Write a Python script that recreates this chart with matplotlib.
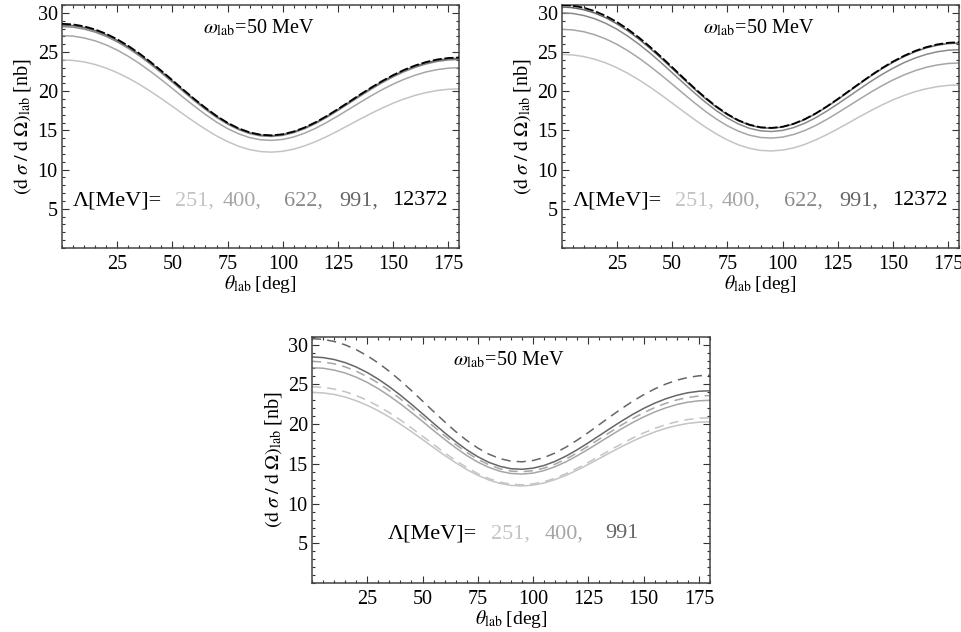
import matplotlib
matplotlib.use("Agg")
import matplotlib.pyplot as plt
from matplotlib.ticker import MultipleLocator

plt.rcParams["font.family"] = ["Liberation Serif", "DejaVu Serif"]
plt.rcParams["mathtext.fontset"] = "stix"

theta = [0, 5, 10, 15, 20, 25, 30, 35, 40, 45, 50, 55, 60, 65, 70, 75, 80, 85, 90,
         95, 100, 105, 110, 115, 120, 125, 130, 135, 140, 145, 150, 155, 160, 165,
         170, 175, 180]

# left panel: cross sections [nb] for each cutoff
left_251 = [24.00, 23.93, 23.74, 23.41, 22.95, 22.37, 21.68, 20.89, 20.00, 19.06,
            18.07, 17.06, 16.08, 15.15, 14.30, 13.57, 12.98, 12.55, 12.30, 12.23,
            12.34, 12.61, 13.04, 13.58, 14.23, 14.94, 15.69, 16.44, 17.17, 17.85,
            18.48, 19.02, 19.48, 19.83, 20.09, 20.25, 20.30]
left_400 = [27.10, 27.03, 26.80, 26.43, 25.91, 25.25, 24.46, 23.55, 22.55, 21.47,
            20.35, 19.20, 18.09, 17.03, 16.06, 15.23, 14.57, 14.08, 13.80, 13.73,
            13.85, 14.17, 14.66, 15.29, 16.04, 16.85, 17.71, 18.57, 19.41, 20.20,
            20.91, 21.53, 22.05, 22.47, 22.76, 22.94, 23.00]
left_622 = [28.25, 28.17, 27.93, 27.54, 27.00, 26.31, 25.48, 24.53, 23.47, 22.34,
            21.16, 19.96, 18.78, 17.67, 16.66, 15.80, 15.10, 14.59, 14.30, 14.23,
            14.37, 14.71, 15.23, 15.90, 16.68, 17.55, 18.46, 19.37, 20.25, 21.09,
            21.84, 22.50, 23.05, 23.49, 23.80, 23.99, 24.05]
left_991 = [28.45, 28.37, 28.13, 27.74, 27.19, 26.49, 25.66, 24.70, 23.64, 22.50,
            21.31, 20.10, 18.92, 17.80, 16.78, 15.91, 15.20, 14.70, 14.40, 14.33,
            14.47, 14.81, 15.33, 16.00, 16.79, 17.66, 18.57, 19.49, 20.38, 21.22,
            21.98, 22.64, 23.19, 23.63, 23.95, 24.14, 24.20]
left_12372 = [28.60, 28.52, 28.28, 27.88, 27.33, 26.63, 25.79, 24.83, 23.76, 22.61,
              21.41, 20.19, 19.00, 17.88, 16.85, 15.97, 15.26, 14.75, 14.45, 14.37,
              14.51, 14.86, 15.38, 16.06, 16.85, 17.73, 18.64, 19.57, 20.46, 21.30,
              22.06, 22.73, 23.29, 23.73, 24.05, 24.24, 24.30]

# right panel
right_251 = [24.70, 24.63, 24.42, 24.08, 23.60, 23.00, 22.27, 21.44, 20.52, 19.53,
             18.49, 17.44, 16.41, 15.43, 14.55, 13.78, 13.16, 12.72, 12.45, 12.38,
             12.49, 12.77, 13.21, 13.79, 14.46, 15.20, 15.98, 16.77, 17.53, 18.25,
             18.90, 19.46, 19.94, 20.31, 20.58, 20.75, 20.80]
right_400 = [27.90, 27.82, 27.59, 27.20, 26.66, 25.98, 25.16, 24.22, 23.18, 22.06,
             20.90, 19.71, 18.55, 17.45, 16.45, 15.59, 14.90, 14.39, 14.10, 14.02,
             14.15, 14.48, 14.98, 15.63, 16.40, 17.25, 18.13, 19.02, 19.89, 20.70,
             21.44, 22.08, 22.62, 23.05, 23.35, 23.54, 23.60]
right_622 = [30.00, 29.92, 29.66, 29.24, 28.65, 27.91, 27.01, 25.99, 24.86, 23.64,
             22.36, 21.07, 19.81, 18.61, 17.52, 16.58, 15.82, 15.27, 14.95, 14.86,
             15.00, 15.36, 15.91, 16.62, 17.46, 18.38, 19.34, 20.31, 21.26, 22.14,
             22.94, 23.65, 24.23, 24.70, 25.03, 25.23, 25.30]
right_991 = [30.75, 30.66, 30.40, 29.97, 29.37, 28.60, 27.69, 26.64, 25.47, 24.22,
             22.91, 21.59, 20.30, 19.07, 17.96, 17.00, 16.23, 15.67, 15.35, 15.27,
             15.43, 15.81, 16.38, 17.13, 18.00, 18.95, 19.96, 20.97, 21.95, 22.87,
             23.70, 24.43, 25.04, 25.53, 25.87, 26.08, 26.15]
right_12372 = [31.00, 30.91, 30.65, 30.21, 29.60, 28.83, 27.90, 26.84, 25.66, 24.39,
               23.07, 21.73, 20.42, 19.18, 18.05, 17.08, 16.29, 15.73, 15.40, 15.32,
               15.47, 15.85, 16.43, 17.17, 18.05, 19.01, 20.02, 21.03, 22.02, 22.95,
               23.79, 24.52, 25.14, 25.62, 25.97, 26.18, 26.25]

cutoffs = ["251", "400", "622", "991", "12372"]
shades = {"251": "#c4c4c4", "400": "#a6a6a6", "622": "#8a8a8a",
          "991": "#666666", "12372": "#000000"}

ylabel = (r"$(\mathrm{d}\;\sigma\;/\;\mathrm{d}\;\Omega)_{\mathrm{lab}}$"
          r"$\;$[nb]")
xlabel = r"$\theta_{\mathrm{lab}}$$\;$[deg]"
title = r"$\omega_{\mathrm{lab}}$=50 MeV"

fig = plt.figure(figsize=(9.62, 6.32), dpi=100)


def frame(ax):
    ax.set_xlim(0, 180)
    ax.set_ylim(0, 31)
    ax.xaxis.set_minor_locator(MultipleLocator(5))
    ax.yaxis.set_minor_locator(MultipleLocator(1))
    ax.set_xticks([25, 50, 75, 100, 125, 150, 175])
    ax.set_yticks([5, 10, 15, 20, 25, 30])
    ax.tick_params(which="both", direction="in", top=True, right=True,
                   labelsize=14.5, color="#333333", width=0.8)
    ax.tick_params(which="major", length=5)
    ax.tick_params(axis="x", which="major", pad=5)
    ax.tick_params(axis="y", which="major", pad=3)
    ax.tick_params(which="minor", length=2.5)
    for s in ax.spines.values():
        s.set_linewidth(1.1)
        s.set_color("#444444")
    ax.set_xlabel(xlabel, fontsize=14, labelpad=-1)
    ax.set_ylabel(ylabel, fontsize=14.5, labelpad=3)
    ax.text(89, 28.1, title, ha="center", va="center", fontsize=14.5)


def legend_row(ax, y, xs, names):
    ax.text(xs[0], y, "Λ[MeV]=", ha="left", va="center", fontsize=16)
    for i, (x, n) in enumerate(zip(xs[1:], names)):
        label = n + ("," if i < len(names) - 1 else "")
        ax.text(x, y, label, ha="left", va="center", fontsize=16,
                color=shades[n])


panels = [
    ([0.0644, 0.6076, 0.4132, 0.3845],
     [left_251, left_400, left_622, left_991, left_12372]),
    ([0.5839, 0.6076, 0.4133, 0.3845],
     [right_251, right_400, right_622, right_991, right_12372]),
]

for rect, series in panels:
    ax = fig.add_axes(rect)
    for name, vals in zip(cutoffs, series):
        if name == "12372":
            ax.plot(theta, vals, color=shades[name], lw=1.3,
                    dashes=(5, 1.5), zorder=5)
        else:
            ax.plot(theta, vals, color=shades[name], lw=1.1)
    frame(ax)
    legend_row(ax, 6.0, [5.0, 51.3, 72.6, 100.6, 125.5, 149.7], cutoffs)

# comparison panel: solid = left set, dashed = right set
ax = fig.add_axes([0.3243, 0.0771, 0.4137, 0.3902])
for name, solid, dashed in [("251", left_251, right_251),
                            ("400", left_400, right_400),
                            ("991", left_991, right_991)]:
    ax.plot(theta, solid, color=shades[name], lw=1.1)
    ax.plot(theta, dashed, color=shades[name], lw=1.1, dashes=(6, 4))
frame(ax)
legend_row(ax, 6.25, [34.5, 80.8, 105.4, 132.5], ["251", "400", "991"])

fig.savefig("out.png", dpi=100)
